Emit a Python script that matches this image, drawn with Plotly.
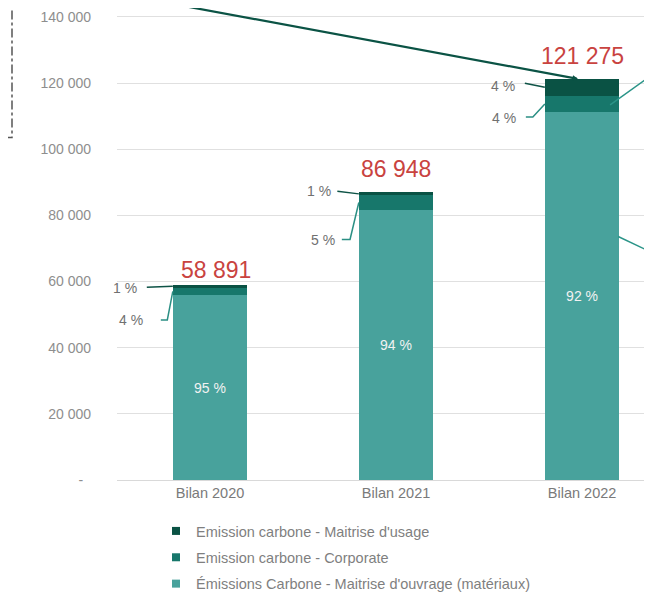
import plotly.graph_objects as go

categories = ["Bilan 2020", "Bilan 2021", "Bilan 2022"]
materiaux = [55791, 81748, 111175]
corporate = [2400, 4300, 5000]
usage = [700, 900, 5100]
series_names = [
    "Émissions Carbone - Maitrise d'ouvrage (matériaux)",
    "Emission carbone - Corporate",
    "Emission carbone - Maitrise d'usage",
]
y_tickvals = [0, 20000, 40000, 60000, 80000, 100000, 120000, 140000]
y_ticktext = ["-\u00a0\u00a0", "20 000", "40 000", "60 000", "80 000", "100 000", "120 000", "140 000"]

C_MAT = "#48A29C"
C_CORP = "#17776B"
C_USE = "#0A5244"
FONT = "Liberation Sans, Arial, sans-serif"

totals = [m + c + u for m, c, u in zip(materiaux, corporate, usage)]
pct = lambda v, t: f"{round(v / t * 100)} %"

fig = go.Figure()
fig.add_trace(go.Bar(x=categories, y=materiaux, marker=dict(color=C_MAT, line=dict(width=0)), width=0.4,
                     text=[pct(v, t) for v, t in zip(materiaux, totals)],
                     textposition="inside", insidetextanchor="middle",
                     textfont=dict(color="#F2F2F2", size=14, family=FONT),
                     showlegend=False, hoverinfo="skip"))
fig.add_trace(go.Bar(x=categories, y=corporate, marker=dict(color=C_CORP, line=dict(width=0)), width=0.4,
                     showlegend=False, hoverinfo="skip"))
fig.add_trace(go.Bar(x=categories, y=usage, marker=dict(color=C_USE, line=dict(width=0)), width=0.4,
                     showlegend=False, hoverinfo="skip"))

# legend entries (small square swatches)
for i, (name, col) in enumerate([(series_names[2], C_USE), (series_names[1], C_CORP), (series_names[0], C_MAT)]):
    fig.add_trace(go.Scatter(x=[None], y=[None], mode="markers", name=name,
                             marker=dict(symbol="square", size=8, color=col),
                             legendgroup=f"g{i}"))

shapes = []
annotations = []

# total labels
tot_shift = [(6, 15), (0, 23), (0, 23)]
for i, t in enumerate(totals):
    annotations.append(dict(x=categories[i], y=t, xref="x", yref="y",
                            text=f"{t:,}".replace(",", " "), showarrow=False,
                            yanchor="middle", xshift=tot_shift[i][0], yshift=tot_shift[i][1],
                            font=dict(color="#C9433F", size=23, family=FONT)))

# outside percentage labels with leader lines
use_lines = [[(0, 0), (-26, -1)], [(0, 0), (-21.5, 2.6)], [(0, 0), (-20, 4)]]
use_text = [(-33.5, -2), (-26, 3), (-28, 1)]
corp_lines = [[(0, 0), (-5.5, -28.4), (-12, -28.4)],
              [(0, 0), (-8.8, -37), (-17, -37)],
              [(0, 0), (-12, -13), (-19, -13)]]
corp_text = [(-28, -29), (-22, -38), (-26.5, -14)]

for i in range(3):
    left = i - 0.2
    y_use = materiaux[i] + corporate[i] + usage[i] / 2
    y_corp = materiaux[i] + corporate[i] / 2
    for pts, ymid, col in [(use_lines[i], y_use, "#0E5346"), (corp_lines[i], y_corp, "#2B8F84")]:
        path = "M" + " L".join(f"{px},{py}" for px, py in pts)
        shapes.append(dict(type="path", path=path, xref="x", yref="y",
                           xsizemode="pixel", ysizemode="pixel", xanchor=left, yanchor=ymid,
                           line=dict(color=col, width=1.5)))
    annotations.append(dict(x=left, y=y_use, xref="x", yref="y", text=pct(usage[i], totals[i]),
                            showarrow=False, xanchor="right", yanchor="middle",
                            xshift=use_text[i][0], yshift=use_text[i][1],
                            font=dict(color="#707070", size=14, family=FONT)))
    annotations.append(dict(x=left, y=y_corp, xref="x", yref="y", text=pct(corporate[i], totals[i]),
                            showarrow=False, xanchor="right", yanchor="middle",
                            xshift=corp_text[i][0], yshift=corp_text[i][1],
                            font=dict(color="#707070", size=14, family=FONT)))

# long arrow coming from outside the crop toward the 2022 total
annotations.append(dict(x=1.978, y=totals[2], xref="x", yref="y",
                        ax=-0.45, ay=146500, axref="x", ayref="y", text="",
                        showarrow=True, arrowhead=2, arrowsize=0.5, arrowwidth=2.2,
                        arrowcolor="#0B5345"))

# connector lines leaving to the right
shapes.append(dict(type="line", xref="x", yref="y", x0=2.151, y0=113424, x1=2.634, y1=132820,
                   line=dict(color="#2A9488", width=1.5)))
shapes.append(dict(type="line", xref="x", yref="y", x0=2.194, y0=73600, x1=2.634, y1=61870,
                   line=dict(color="#2A9488", width=1.5)))

# dash-dot frame fragment on the left
shapes.append(dict(type="path", xref="paper", yref="paper",
                   path="M -0.2112,0.7258 L -0.19626,0.7258 L -0.19626,1.02",
                   line=dict(color="#555555", width=1.5, dash="dashdot")))

fig.update_layout(
    width=652, height=592,
    margin=dict(l=109, r=8, t=0, b=119),
    paper_bgcolor="white", plot_bgcolor="white",
    barmode="stack",
    font=dict(family=FONT, size=14, color="#7F7F7F"),
    shapes=shapes, annotations=annotations,
    legend=dict(orientation="v", x=0.0729, xanchor="left", y=-0.0745, yanchor="top",
                traceorder="grouped", tracegroupgap=4.5,
                font=dict(size=14.5, color="#7F7F7F", family=FONT)),
    xaxis=dict(range=[-0.5, 2.376], showgrid=False, showline=True, linecolor="#D9D9D9",
               linewidth=1, ticks="", tickfont=dict(size=14.5, color="#7A7A7A"),
               fixedrange=True),
    yaxis=dict(range=[0, 142686], tickvals=y_tickvals, ticktext=y_ticktext,
               showgrid=True, gridcolor="#E0E0E0", gridwidth=1, zeroline=False,
               ticks="", ticklabelstandoff=25, tickfont=dict(size=14, color="#8E8E8E"),
               fixedrange=True),
)

fig.write_html("out.html")
